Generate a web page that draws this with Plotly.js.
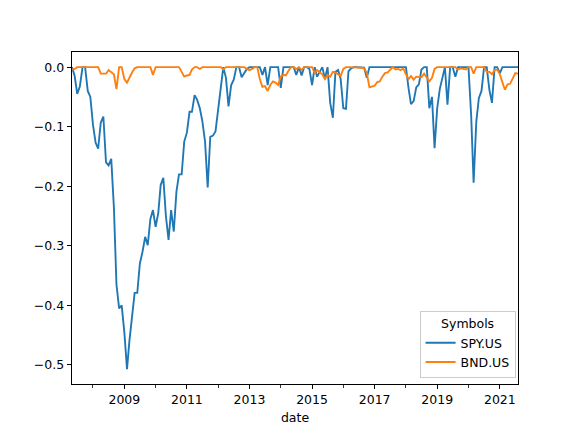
<!DOCTYPE html>
<html>
<head>
<meta charset="utf-8">
<script src="https://cdn.plot.ly/plotly-3.0.1.min.js"></script>
<style>html,body{margin:0;padding:0;background:#fff;}#chart{width:576px;height:432px;}</style>
</head>
<body>
<div id="chart"></div>
<script>
// Monthly drawdowns, first month 2007-05
const startYear = 2007, startMonth = 5;
const spyName = "SPY.US";
const bndName = "BND.US";
const spyDrawdown = [
  // 2007 May-Dec
  0, -0.015, -0.045, -0.032, 0, 0, -0.04, -0.05,
  // 2008
  -0.097, -0.127, -0.137, -0.093, -0.083, -0.16, -0.165, -0.154, -0.235, -0.365, -0.405, -0.40,
  // 2009
  -0.445, -0.507, -0.46, -0.413, -0.379, -0.379, -0.33, -0.31, -0.285, -0.299, -0.255, -0.24,
  // 2010
  -0.268, -0.245, -0.198, -0.186, -0.25, -0.29, -0.24, -0.276, -0.209, -0.18, -0.18, -0.125,
  // 2011
  -0.11, -0.075, -0.075, -0.047, -0.055, -0.069, -0.091, -0.125, -0.202, -0.117, -0.115, -0.108,
  // 2012
  -0.069, -0.035, 0, -0.018, -0.066, -0.03, -0.021, 0, 0, -0.017, -0.01, -0.003,
  // 2013
  0, 0, 0, 0, 0, -0.013, 0, -0.03, 0, 0, 0, 0,
  // 2014
  -0.035, 0, 0, 0, 0, 0, -0.013, 0, -0.014, 0, 0, -0.003,
  // 2015
  -0.03, 0, -0.016, -0.007, 0, -0.02, 0, -0.06, -0.085, -0.008, -0.005, -0.02,
  // 2016
  -0.069, -0.07, -0.007, -0.002, 0, 0, 0, 0, -0.001, -0.018, 0, 0,
  // 2017
  0, 0, 0, 0, 0, 0, 0, 0, 0, 0, 0, 0,
  // 2018
  0, -0.036, -0.062, -0.057, -0.034, -0.029, -0.004, 0, 0, -0.069, -0.05, -0.136,
  // 2019
  -0.069, -0.036, -0.02, 0, -0.063, 0, 0, -0.016, 0, 0, 0, 0,
  // 2020
  0, -0.08, -0.194, -0.092, -0.052, -0.04, 0, 0, -0.038, -0.06, 0, 0,
  // 2021 Jan-Aug
  -0.01, 0, 0, 0, 0, 0, 0, 0
];
const bndDrawdown = [
  // 2007 May-Dec
  -0.004, -0.003, 0, 0, 0, 0, 0, 0,
  // 2008
  0, 0, 0, -0.011, -0.011, -0.011, -0.005, -0.008, -0.012, -0.037, 0, 0,
  // 2009
  -0.02, -0.026, -0.017, -0.009, -0.002, 0, 0, 0, 0, 0, 0, -0.013,
  // 2010
  0, 0, 0, 0, 0, 0, 0, 0, 0, 0, -0.008, -0.016,
  // 2011
  -0.014, -0.013, -0.004, 0, 0, -0.003, 0, 0, 0, 0, 0, 0,
  // 2012
  0, 0, -0.004, 0, 0, 0, 0, 0, 0, 0, 0, -0.003,
  // 2013
  -0.005, -0.003, 0, 0, -0.02, -0.033, -0.032, -0.04, -0.03, -0.024, -0.026, -0.03,
  // 2014
  -0.016, -0.013, -0.014, -0.006, 0, 0, -0.003, 0, -0.005, 0, 0, 0,
  // 2015
  0, -0.01, -0.005, -0.009, -0.012, -0.02, -0.013, -0.016, -0.008, -0.009, -0.012, -0.015,
  // 2016
  -0.003, 0, 0, 0, 0, 0, 0, -0.001, -0.002, -0.01, -0.034, -0.033,
  // 2017
  -0.031, -0.025, -0.024, -0.016, -0.01, -0.009, -0.004, 0, -0.004, -0.003, -0.005, -0.002,
  // 2018
  -0.012, -0.02, -0.015, -0.021, -0.016, -0.017, -0.017, -0.011, -0.017, -0.024, -0.018, -0.003,
  // 2019
  0, 0, 0, 0, 0, 0, 0, 0, -0.004, -0.002, -0.003, -0.004,
  // 2020
  0, 0, -0.011, 0, 0, 0, 0, -0.008, -0.008, -0.012, -0.005, -0.004,
  // 2021 Jan-Aug
  -0.012, -0.026, -0.038, -0.029, -0.028, -0.019, -0.01, -0.011
];

// month labels for the index
function monthLabels(n) {
  const out = [];
  let y = startYear, m = startMonth;
  for (let k = 0; k < n; k++) {
    out.push(y + "-" + String(m).padStart(2, "0") + "-01");
    m++; if (m > 12) { m = 1; y++; }
  }
  return out;
}
const dates = monthLabels(spyDrawdown.length);

const font = {family: "DejaVu Sans, sans-serif", size: 12.5, color: "#000"};

const traces = [
  {x: dates, y: spyDrawdown, name: spyName, type: "scatter", mode: "lines",
   line: {color: "#1f77b4", width: 1.875}},
  {x: dates, y: bndDrawdown, name: bndName, type: "scatter", mode: "lines",
   line: {color: "#ff7f0e", width: 1.875}}
];

const layout = {
  width: 576, height: 432,
  margin: {l: 72, r: 57.6, t: 51.8, b: 47.5, pad: 0},
  paper_bgcolor: "#fff", plot_bgcolor: "#fff",
  font: font,
  showlegend: true,
  xaxis: {
    type: "date",
    range: [dates[0], dates[dates.length - 1]],
    showgrid: false, zeroline: false,
    showline: true, mirror: true, linecolor: "#000", linewidth: 1,
    ticks: "outside", ticklen: 4.4, tickwidth: 1, tickcolor: "#000",
    tickmode: "linear", tick0: "2009-01-01", dtick: "M24", tickformat: "%Y",
    tickfont: font,
    minor: {ticks: "outside", ticklen: 2.5, tickwidth: 0.8, tickcolor: "#000",
            tickmode: "linear", tick0: "2008-01-01", dtick: "M12", showgrid: false},
    title: {text: "date", font: font, standoff: 6}
  },
  yaxis: {
    range: [-0.532, 0.0254],
    showgrid: false, zeroline: false,
    showline: true, mirror: true, linecolor: "#000", linewidth: 1,
    ticks: "outside", ticklen: 4.4, tickwidth: 1, tickcolor: "#000",
    tickmode: "array",
    tickvals: [0, -0.1, -0.2, -0.3, -0.4, -0.5],
    ticktext: ["0.0", "\u22120.1", "\u22120.2", "\u22120.3", "\u22120.4", "\u22120.5"],
    tickfont: font
  },
  legend: {
    x: 0.9946, y: 0.0186, xanchor: "right", yanchor: "bottom",
    bgcolor: "rgba(255,255,255,0.8)", bordercolor: "#cccccc", borderwidth: 1,
    font: font,
    title: {text: "Symbols", side: "top center", font: font}
  }
};

Plotly.newPlot("chart", traces, layout, {staticPlot: true, displayModeBar: false});
</script>
</body>
</html>
